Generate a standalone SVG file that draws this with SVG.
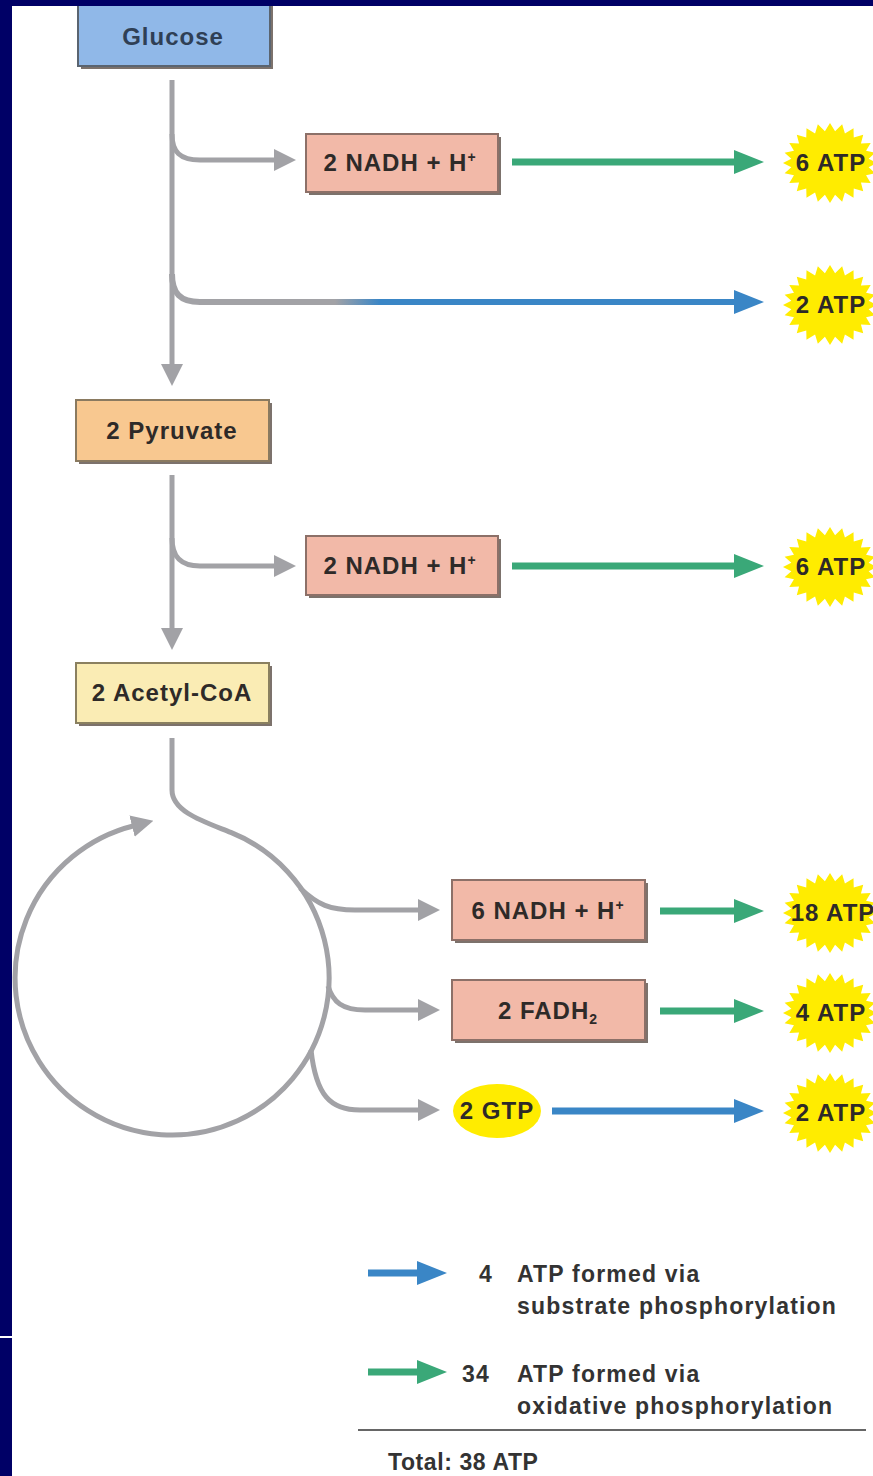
<svg xmlns="http://www.w3.org/2000/svg" width="873" height="1476" viewBox="0 0 873 1476">
<style>
.t{font-family:"Liberation Sans",Arial,sans-serif;font-weight:bold;font-size:24px;letter-spacing:1px;fill:#2e2a28;text-anchor:middle}
.lg{font-family:"Liberation Sans",Arial,sans-serif;font-weight:bold;font-size:23px;letter-spacing:1.2px;fill:#333}
.gray{fill:none;stroke:#a2a2a6;stroke-width:5}
.green{fill:none;stroke:#3aa878;stroke-width:7}
.blue{fill:none;stroke:#3a86c6;stroke-width:7}
.sh{fill:#7c726c}
.pink{fill:#f2b9a8;stroke:#8c7068;stroke-width:2}
</style>
<defs>
<marker id="mg" markerUnits="userSpaceOnUse" viewBox="0 0 22 22" refX="2" refY="11" markerWidth="22" markerHeight="22" orient="auto"><path d="M0,0 L22,11 L0,22 Z" fill="#a2a2a6"/></marker>
<marker id="mgr" markerUnits="userSpaceOnUse" viewBox="0 0 30 24" refX="1" refY="12" markerWidth="30" markerHeight="24" orient="auto"><path d="M0,0 L30,12 L0,24 Z" fill="#3aa878"/></marker>
<marker id="mb" markerUnits="userSpaceOnUse" viewBox="0 0 30 24" refX="1" refY="12" markerWidth="30" markerHeight="24" orient="auto"><path d="M0,0 L30,12 L0,24 Z" fill="#3a86c6"/></marker>
<linearGradient id="gb" gradientUnits="userSpaceOnUse" x1="335" y1="0" x2="380" y2="0"><stop offset="0" stop-color="#a2a2a6"/><stop offset="1" stop-color="#3a86c6"/></linearGradient>
<polygon id="burst" fill="#ffec00" points="47,0 38.66,4.18 45.4,10.35 36.03,12.25 40.7,20 30.94,19.48 33.23,28.28 23.74,25.39 23.5,34.64 14.93,29.56 12.16,38.64 5.09,31.72 0,40 -5.09,31.72 -12.16,38.64 -14.93,29.56 -23.5,34.64 -23.74,25.39 -33.23,28.28 -30.94,19.48 -40.7,20 -36.03,12.25 -45.4,10.35 -38.66,4.18 -47,0 -38.66,-4.18 -45.4,-10.35 -36.03,-12.25 -40.7,-20 -30.94,-19.48 -33.23,-28.28 -23.74,-25.39 -23.5,-34.64 -14.93,-29.56 -12.16,-38.64 -5.09,-31.72 0,-40 5.09,-31.72 12.16,-38.64 14.93,-29.56 23.5,-34.64 23.74,-25.39 33.23,-28.28 30.94,-19.48 40.7,-20 36.03,-12.25 45.4,-10.35 38.66,-4.18"/>
</defs>
<rect x="0" y="0" width="873" height="1476" fill="#ffffff"/>

<g id="connectors">
<path class="gray" d="M172,80 L172,366" marker-end="url(#mg)"/>
<path class="gray" d="M172,134 C172,152 180,160 200,160 L276,160" marker-end="url(#mg)"/>
<path d="M172,274 C172,293 180,302 200,302 L735,302" fill="none" stroke="url(#gb)" stroke-width="6" marker-end="url(#mb)"/>
<path class="green" d="M512,162 L735,162" marker-end="url(#mgr)"/>
<path class="gray" d="M172,475 L172,630" marker-end="url(#mg)"/>
<path class="gray" d="M172,538 C172,556 180,566 200,566 L276,566" marker-end="url(#mg)"/>
<path class="green" d="M512,566 L735,566" marker-end="url(#mgr)"/>
<path class="gray" d="M172,738 L172,790 C172,812 205,822 230.8,832.4 A157,157 0 1 1 134,825.7" marker-end="url(#mg)"/>
<path class="gray" d="M300,888 C318,905 330,910 355,910 L420,910" marker-end="url(#mg)"/>
<path class="gray" d="M328,986 C333,1002 342,1010 365,1010 L420,1010" marker-end="url(#mg)"/>
<path class="gray" d="M311,1050 C316,1095 330,1110 360,1110 L420,1110" marker-end="url(#mg)"/>
<path class="green" d="M660,911 L735,911" marker-end="url(#mgr)"/>
<path class="green" d="M660,1011 L735,1011" marker-end="url(#mgr)"/>
<path class="blue" d="M552,1111 L735,1111" marker-end="url(#mb)"/>
</g>

<g id="glucose">
<rect class="sh" x="81" y="5" width="192" height="64"/>
<rect x="78" y="2" width="192" height="64" fill="#90b8e8" stroke="#5a6470" stroke-width="2"/>
<text class="t" x="173" y="45" style="fill:#2f3f55">Glucose</text>
</g>
<g id="nadh1">
<rect class="sh" x="309" y="137" width="192" height="58"/>
<rect class="pink" x="306" y="134" width="192" height="58"/>
<text class="t" x="400" y="171">2 NADH + H<tspan font-size="14" dy="-9">+</tspan></text>
</g>
<g id="pyruvate">
<rect class="sh" x="79" y="403" width="193" height="61"/>
<rect x="76" y="400" width="193" height="61" fill="#f8c890" stroke="#8a7a60" stroke-width="2"/>
<text class="t" x="172" y="439">2 Pyruvate</text>
</g>
<g id="nadh2">
<rect class="sh" x="309" y="539" width="192" height="59"/>
<rect class="pink" x="306" y="536" width="192" height="59"/>
<text class="t" x="400" y="574">2 NADH + H<tspan font-size="14" dy="-9">+</tspan></text>
</g>
<g id="acetyl">
<rect class="sh" x="79" y="666" width="193" height="60"/>
<rect x="76" y="663" width="193" height="60" fill="#faecb4" stroke="#8a8060" stroke-width="2"/>
<text class="t" x="172" y="701">2 Acetyl-CoA</text>
</g>
<g id="nadh6">
<rect class="sh" x="455" y="883" width="193" height="60"/>
<rect class="pink" x="452" y="880" width="193" height="60"/>
<text class="t" x="548" y="919">6 NADH + H<tspan font-size="14" dy="-9">+</tspan></text>
</g>
<g id="fadh">
<rect class="sh" x="455" y="983" width="193" height="60"/>
<rect class="pink" x="452" y="980" width="193" height="60"/>
<text class="t" x="548" y="1019">2 FADH<tspan font-size="14" dy="5">2</tspan></text>
</g>
<g id="gtp">
<ellipse cx="497" cy="1111" rx="44" ry="27" fill="#ffec00"/>
<text class="t" x="497" y="1119">2 GTP</text>
</g>

<g id="atp1"><use href="#burst" x="830" y="163"/><text class="t" x="831" y="171">6 ATP</text></g>
<g id="atp2"><use href="#burst" x="830" y="305"/><text class="t" x="831" y="313">2 ATP</text></g>
<g id="atp3"><use href="#burst" x="830" y="567"/><text class="t" x="831" y="575">6 ATP</text></g>
<g id="atp4"><use href="#burst" x="830" y="913"/><text class="t" x="833" y="921">18 ATP</text></g>
<g id="atp5"><use href="#burst" x="830" y="1013"/><text class="t" x="831" y="1021">4 ATP</text></g>
<g id="atp6"><use href="#burst" x="830" y="1113"/><text class="t" x="831" y="1121">2 ATP</text></g>

<g id="legend">
<path class="blue" d="M368,1273 L418,1273" marker-end="url(#mb)"/>
<text class="lg" x="486" y="1282" text-anchor="middle">4</text>
<text class="lg" x="517" y="1282">ATP formed via</text>
<text class="lg" x="517" y="1314">substrate phosphorylation</text>
<path class="green" d="M368,1372 L418,1372" marker-end="url(#mgr)"/>
<text class="lg" x="476" y="1382" text-anchor="middle">34</text>
<text class="lg" x="517" y="1382">ATP formed via</text>
<text class="lg" x="517" y="1414">oxidative phosphorylation</text>
<line x1="358" y1="1430" x2="866" y2="1430" stroke="#666" stroke-width="2"/>
<text class="lg" x="388" y="1470" style="letter-spacing:0.6px">Total: 38 ATP</text>
</g>

<g id="frame">
<rect x="0" y="0" width="873" height="6" fill="#000066"/>
<rect x="0" y="0" width="12" height="1476" fill="#000066"/>
<rect x="0" y="1336" width="12" height="2" fill="#ffffff"/>
</g>
</svg>
